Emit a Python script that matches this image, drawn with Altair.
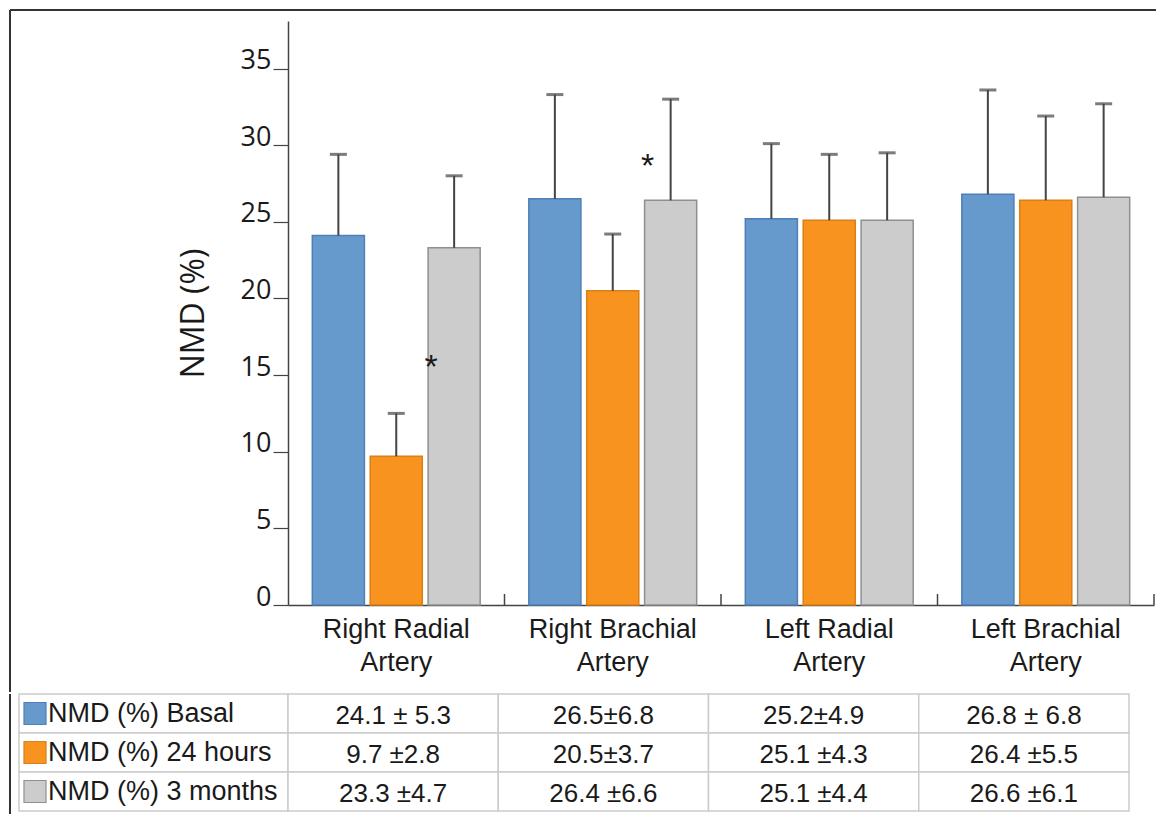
import altair as alt
import pandas as pd

# ---------------- data ----------------
categories = ["Right Radial Artery", "Right Brachial Artery", "Left Radial Artery", "Left Brachial Artery"]
series = ["NMD (%) Basal", "NMD (%) 24 hours", "NMD (%) 3 months"]

basal_mean = [24.1, 26.5, 25.2, 26.8]
basal_sd = [5.3, 6.8, 4.9, 6.8]
h24_mean = [9.7, 20.5, 25.1, 26.4]
h24_sd = [2.8, 3.7, 4.3, 5.5]
m3_mean = [23.3, 26.4, 25.1, 26.6]
m3_sd = [4.7, 6.6, 4.4, 6.1]

basal_text = ["24.1 ± 5.3", "26.5±6.8", "25.2±4.9", "26.8 ± 6.8"]
h24_text = ["9.7 ±2.8", "20.5±3.7", "25.1 ±4.3", "26.4 ±5.5"]
m3_text = ["23.3 ±4.7", "26.4 ±6.6", "25.1 ±4.4", "26.6 ±6.1"]

star_categories = ["Right Radial Artery", "Right Brachial Artery"]
star_series = ["NMD (%) 3 months", "NMD (%) 3 months"]
star_values = [14.8, 27.9]

y_ticks = [0, 5, 10, 15, 20, 25, 30, 35]

fill_colors = ["#6699CC", "#F7931E", "#CCCCCC"]
edge_colors = ["#4F7FB8", "#D98016", "#8F8F8F"]

# ---------------- tables for the library ----------------
means = [basal_mean, h24_mean, m3_mean]
sds = [basal_sd, h24_sd, m3_sd]
texts = [basal_text, h24_text, m3_text]

rows = []
for s, mv, sv, tv in zip(series, means, sds, texts):
    for c, m, sd, t in zip(categories, mv, sv, tv):
        rows.append({"category": c, "series": s, "mean": m, "upper": round(m + sd, 2), "text": t})
df = pd.DataFrame(rows)
cat_df = pd.DataFrame({"category": categories})
star_df = pd.DataFrame({"category": star_categories, "series": star_series, "value": star_values})
series_df = pd.DataFrame({"series": series})
one = pd.DataFrame({"k": [0]})

W, H = 866, 584
TW, RH = 841, 39
TH = 3 * RH
GAP = 87
INK = "#1a1a1a"
AX = "#444444"

fill_scale = alt.Scale(domain=series, range=fill_colors)
edge_scale = alt.Scale(domain=series, range=edge_colors)

x_axis = alt.Axis(
    title=None, ticks=False, labelAngle=0,
    labelExpr="[replace(datum.value, ' Artery', ''), 'Artery']",
    labelFont="Liberation Sans", labelFontSize=27, labelColor=INK,
    labelPadding=11, labelLineHeight=33,
    domainColor=AX, domainWidth=1.5,
)
x_scale = alt.Scale(paddingInner=0, paddingOuter=0)
x_enc = alt.X("category:N", sort=categories, scale=x_scale, axis=x_axis)
xoff = alt.XOffset("series:N", sort=series, scale=alt.Scale(paddingInner=0.1, paddingOuter=0.42))

y_scale = alt.Scale(domain=[0, 38.1], nice=False, zero=True)
y_axis = alt.Axis(
    values=y_ticks, title="NMD (%)", grid=False,
    titleFont="Open Sans", titleFontSize=32, titleFontWeight="normal", titleColor=INK,
    titlePadding=30,
    labelFont="Open Sans", labelFontSize=27, labelColor=INK,
    labelBaseline="alphabetic", labelPadding=2,
    tickSize=15, tickColor=AX, tickWidth=1.2,
    domainColor=AX, domainWidth=1.5,
)

bars = alt.Chart(df).mark_bar(strokeWidth=1.5).encode(
    x=x_enc, xOffset=xoff,
    y=alt.Y("mean:Q", scale=y_scale, axis=y_axis),
    fill=alt.Fill("series:N", scale=fill_scale, legend=None),
    stroke=alt.Stroke("series:N", scale=edge_scale, legend=None),
)

err = alt.Chart(df).mark_rule(color=AX, strokeWidth=2).encode(
    x=x_enc, xOffset=xoff,
    y=alt.Y("mean:Q", scale=y_scale, axis=y_axis),
    y2="upper:Q",
)

caps = alt.Chart(df).mark_tick(color=AX, thickness=3, size=17).encode(
    x=x_enc, xOffset=xoff,
    y=alt.Y("upper:Q", scale=y_scale, axis=y_axis),
)

stars = alt.Chart(star_df).mark_text(
    text="*", font="Liberation Sans", fontSize=34, baseline="alphabetic", dx=-23, color=INK
).encode(
    x=x_enc, xOffset=xoff,
    y=alt.Y("value:Q", scale=y_scale, axis=y_axis),
)

bounds_ticks = alt.Chart(cat_df).mark_rule(color=AX, strokeWidth=1.5).encode(
    x=alt.X("category:N", sort=categories, scale=x_scale, axis=x_axis, bandPosition=1),
    y=alt.value(H - 11), y2=alt.value(H),
)

frame_top = alt.Chart(one).mark_rule(color="#333333", strokeWidth=2).encode(
    x=alt.value(-278), x2=alt.value(W + 2), y=alt.value(-11)
)
frame_left_top = alt.Chart(one).mark_rule(color="#333333", strokeWidth=2).encode(
    x=alt.value(-278), y=alt.value(-11), y2=alt.value(H + GAP)
)

top = alt.layer(bars, err, caps, stars, bounds_ticks, frame_top, frame_left_top).properties(width=W, height=H)

# ---------------- table ----------------
tx = alt.X("category:N", sort=categories, scale=alt.Scale(paddingInner=0, paddingOuter=0), axis=None)
ty = alt.Y("series:N", sort=series, scale=alt.Scale(paddingInner=0, paddingOuter=0), axis=None)
GRID = "#cccccc"

cells = alt.Chart(df).mark_rect(fill="white", stroke=GRID, strokeWidth=1.5).encode(x=tx, y=ty)
cell_text = alt.Chart(df).mark_text(font="Liberation Sans", fontSize=26, color=INK, dy=2).encode(
    x=tx, y=ty, text="text:N"
)
label_cells = alt.Chart(series_df).mark_rect(fill="white", stroke=GRID, strokeWidth=1.5).encode(
    x=alt.value(-269), x2=alt.value(0), y=ty
)
swatches = alt.Chart(series_df).mark_square(size=484, strokeWidth=1.2, opacity=1).encode(
    x=alt.value(-253), y=ty,
    fill=alt.Fill("series:N", scale=fill_scale, legend=None),
    stroke=alt.Stroke("series:N", scale=edge_scale, legend=None),
)
row_labels = alt.Chart(series_df).mark_text(
    align="left", font="Liberation Sans", fontSize=27, color=INK
).encode(x=alt.value(-240), y=ty, text="series:N")
frame_left_bottom = alt.Chart(one).mark_rule(color="#333333", strokeWidth=2).encode(
    x=alt.value(-278), y=alt.value(0), y2=alt.value(TH + 3)
)

table = alt.layer(label_cells, cells, cell_text, swatches, row_labels, frame_left_bottom).properties(
    width=TW, height=TH
)

chart = alt.vconcat(top, table, spacing=0).properties(
    padding={"left": 1, "top": 1, "right": 0, "bottom": 0}
).configure_view(strokeWidth=0)

chart.save("out.html", embed_options={"renderer": "svg", "actions": False})
